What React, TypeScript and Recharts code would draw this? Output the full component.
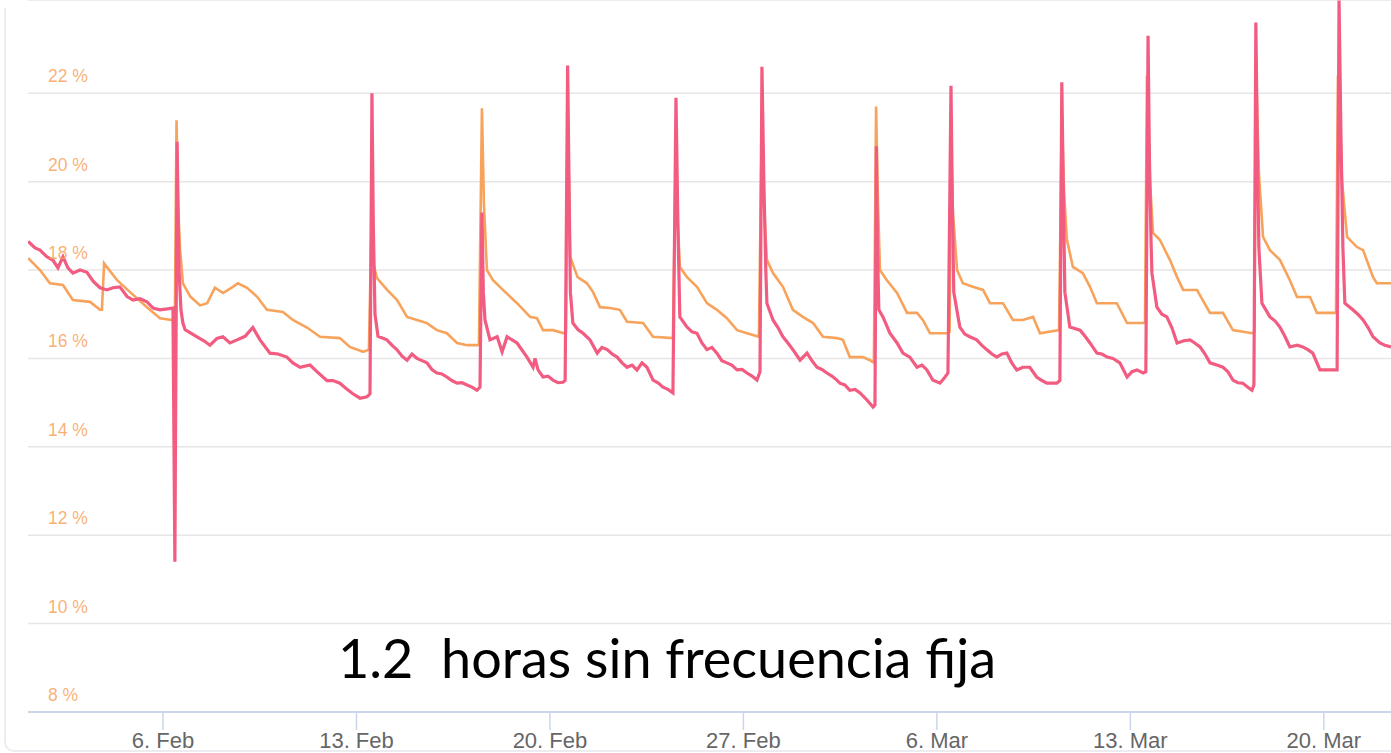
import { LineChart, Line, XAxis, YAxis, CartesianGrid } from 'recharts';

// day 0 = 1 Feb 00:00, values in %
const xTickDays = [5, 12, 19, 26, 33, 40, 47];
const xTickLabels = ['6. Feb', '13. Feb', '20. Feb', '27. Feb', '6. Mar', '13. Mar', '20. Mar'];
const yTicks = [8, 10, 12, 14, 16, 18, 20, 22];

const orangeSeries: [number, number][] = [
  [0.12, 18.27], [0.55, 18.0], [0.91, 17.7], [1.38, 17.66], [1.74, 17.32], [2.36, 17.28], [2.72, 17.1], [2.79, 17.1],
  [2.87, 18.15], [3.34, 17.77], [3.81, 17.5], [4.42, 17.16], [4.89, 16.91], [5.33, 16.87], [5.43, 17.0],
  [5.49, 21.39], [5.54, 19.5], [5.62, 18.45], [5.72, 17.7], [5.99, 17.4], [6.34, 17.2], [6.6, 17.25], [6.88, 17.6],
  [7.17, 17.48], [7.53, 17.62], [7.71, 17.7], [8.04, 17.6], [8.4, 17.4], [8.76, 17.1], [9.34, 17.05], [9.7, 16.87],
  [10.21, 16.7], [10.68, 16.49], [11.4, 16.46], [11.76, 16.26], [12.24, 16.15], [12.45, 16.2],
  [12.56, 19.5], [12.63, 18.1], [12.74, 17.82], [13.11, 17.55], [13.47, 17.32], [13.83, 16.94], [14.19, 16.87],
  [14.55, 16.8], [14.91, 16.64], [15.27, 16.57], [15.64, 16.35], [16.0, 16.3], [16.43, 16.3],
  [16.54, 21.66], [16.61, 19.5], [16.72, 18.0], [16.94, 17.77], [17.3, 17.55], [17.81, 17.25], [18.28, 16.94],
  [18.53, 16.91], [18.75, 16.64], [19.11, 16.64], [19.51, 16.57], [19.58, 16.6],
  [19.64, 21.85], [19.73, 18.3], [20.0, 17.84], [20.34, 17.7], [20.56, 17.5], [20.81, 17.16], [21.17, 17.14],
  [21.53, 17.1], [21.79, 16.83], [22.37, 16.8], [22.73, 16.49], [23.45, 16.46],
  [23.56, 21.0], [23.63, 19.0], [23.7, 18.07], [23.96, 17.84], [24.32, 17.62], [24.68, 17.25], [25.04, 17.1],
  [25.4, 16.91], [25.77, 16.64], [26.13, 16.57], [26.56, 16.49],
  [26.67, 21.5], [26.74, 19.5], [26.85, 18.23], [27.07, 17.93], [27.43, 17.62], [27.79, 17.1], [28.15, 16.94],
  [28.52, 16.8], [28.88, 16.49], [29.38, 16.46], [29.6, 16.42], [29.85, 16.03], [30.32, 16.03], [30.58, 15.96], [30.72, 15.9],
  [30.8, 21.7], [30.87, 19.5], [30.94, 18.0], [31.19, 17.77], [31.56, 17.48], [31.92, 17.03], [32.28, 17.03],
  [32.49, 16.87], [32.75, 16.57], [33.33, 16.57], [33.46, 16.6],
  [33.51, 21.0], [33.58, 19.3], [33.73, 18.0], [33.94, 17.7], [34.3, 17.62], [34.67, 17.55], [34.92, 17.25],
  [35.39, 17.25], [35.75, 16.87], [36.11, 16.87], [36.48, 16.94], [36.73, 16.57], [37.42, 16.64],
  [37.52, 21.5], [37.6, 19.8], [37.7, 18.7], [37.92, 18.07], [38.28, 17.93], [38.54, 17.62], [38.79, 17.25],
  [39.51, 17.25], [39.88, 16.8], [40.53, 16.8],
  [40.6, 22.4], [40.71, 20.0], [40.82, 18.84], [41.07, 18.68], [41.43, 18.23], [41.69, 17.84], [41.91, 17.55],
  [42.41, 17.55], [42.88, 17.03], [43.35, 17.03], [43.71, 16.64], [44.4, 16.57], [44.49, 16.6],
  [44.54, 22.8], [44.65, 20.2], [44.8, 18.75], [45.05, 18.45], [45.41, 18.23], [45.77, 17.77], [46.03, 17.39],
  [46.5, 17.39], [46.75, 17.03], [47.44, 17.03],
  [47.51, 22.4], [47.66, 20.0], [47.84, 18.75], [48.2, 18.52], [48.42, 18.45], [48.78, 17.84], [48.92, 17.7], [49.43, 17.7],
];

const pinkSeries: [number, number][] = [
  [0.12, 18.65], [0.37, 18.5], [0.55, 18.45], [0.8, 18.3], [1.02, 18.22], [1.2, 18.05], [1.38, 18.3], [1.56, 18.05],
  [1.74, 17.93], [2.0, 18.0], [2.25, 17.95], [2.47, 17.75], [2.72, 17.6], [2.97, 17.55], [3.19, 17.6], [3.44, 17.62],
  [3.7, 17.4], [3.92, 17.32], [4.17, 17.35], [4.42, 17.28], [4.64, 17.14], [4.89, 17.1], [5.15, 17.12], [5.36, 17.14],
  [5.43, 11.4], [5.51, 20.9], [5.58, 18.0], [5.65, 17.1], [5.72, 16.8], [5.8, 16.65], [6.23, 16.49], [6.48, 16.4],
  [6.7, 16.3], [6.95, 16.45], [7.17, 16.49], [7.42, 16.35], [7.68, 16.42], [7.97, 16.5], [8.25, 16.7], [8.51, 16.42],
  [8.87, 16.12], [9.16, 16.1], [9.48, 16.03], [9.7, 15.9], [9.96, 15.8], [10.32, 15.85], [10.57, 15.7], [10.93, 15.5],
  [11.15, 15.5], [11.4, 15.44], [11.66, 15.3], [11.87, 15.2], [12.13, 15.1], [12.38, 15.13], [12.49, 15.2],
  [12.56, 22.0], [12.61, 19.0], [12.67, 17.0], [12.78, 16.5], [13.1, 16.42], [13.28, 16.3], [13.46, 16.2], [13.65, 16.05],
  [13.83, 15.96], [14.01, 16.1], [14.19, 16.0], [14.37, 15.95], [14.55, 15.9], [14.73, 15.75], [14.91, 15.67],
  [15.09, 15.65], [15.27, 15.58], [15.45, 15.5], [15.64, 15.44], [15.82, 15.45], [16.0, 15.4], [16.18, 15.35],
  [16.36, 15.28], [16.47, 15.35],
  [16.54, 19.3], [16.59, 17.5], [16.65, 16.87], [16.83, 16.42], [17.09, 16.49], [17.27, 16.15], [17.45, 16.49],
  [17.81, 16.35], [18.17, 16.03], [18.39, 15.8], [18.46, 16.0], [18.57, 15.74], [18.75, 15.58], [18.93, 15.6],
  [19.11, 15.51], [19.29, 15.45], [19.47, 15.46], [19.55, 15.5],
  [19.64, 22.63], [19.69, 20.0], [19.74, 17.5], [19.83, 16.8], [20.02, 16.65], [20.2, 16.57], [20.45, 16.42],
  [20.71, 16.12], [20.88, 16.25], [21.07, 16.2], [21.25, 16.1], [21.43, 16.03], [21.61, 15.9], [21.79, 15.8],
  [21.97, 15.85], [22.15, 15.74], [22.33, 15.9], [22.51, 15.8], [22.73, 15.51], [22.91, 15.45], [23.09, 15.35],
  [23.27, 15.3], [23.45, 15.22],
  [23.56, 21.9], [23.63, 19.0], [23.7, 16.94], [23.96, 16.71], [24.14, 16.6], [24.32, 16.57], [24.5, 16.35],
  [24.68, 16.2], [24.86, 16.25], [25.04, 16.12], [25.22, 15.95], [25.4, 15.9], [25.58, 15.85], [25.77, 15.74],
  [25.95, 15.75], [26.13, 15.67], [26.31, 15.6], [26.49, 15.51], [26.6, 15.7],
  [26.67, 22.6], [26.74, 20.0], [26.81, 18.0], [26.85, 17.25], [27.07, 16.87], [27.25, 16.7], [27.43, 16.49],
  [27.61, 16.35], [27.79, 16.2], [28.05, 15.96], [28.3, 16.12], [28.48, 15.95], [28.66, 15.8], [28.84, 15.75],
  [29.02, 15.67], [29.2, 15.6], [29.38, 15.51], [29.49, 15.44], [29.67, 15.4], [29.85, 15.28], [30.04, 15.3],
  [30.22, 15.22], [30.47, 15.06], [30.69, 14.9], [30.76, 14.95],
  [30.81, 20.8], [30.85, 18.5], [30.9, 17.1], [31.05, 16.94], [31.3, 16.57], [31.56, 16.35], [31.77, 16.12],
  [32.02, 16.03], [32.28, 15.8], [32.46, 15.85], [32.64, 15.74], [32.85, 15.51], [33.11, 15.44], [33.26, 15.55], [33.4, 15.67],
  [33.51, 22.17], [33.56, 19.5], [33.61, 17.5], [33.83, 16.71], [34.01, 16.55], [34.19, 16.49], [34.44, 16.42],
  [34.62, 16.3], [34.8, 16.2], [34.99, 16.1], [35.17, 16.03], [35.35, 16.1], [35.53, 16.12], [35.71, 15.9],
  [35.89, 15.74], [36.11, 15.8], [36.36, 15.8], [36.61, 15.58], [36.8, 15.5], [36.98, 15.44], [37.34, 15.44], [37.45, 15.5],
  [37.52, 22.25], [37.58, 19.5], [37.63, 17.5], [37.81, 16.71], [38.18, 16.64], [38.36, 16.5], [38.54, 16.35],
  [38.79, 16.12], [38.97, 16.1], [39.16, 16.03], [39.37, 16.0], [39.62, 15.9], [39.88, 15.58], [40.06, 15.7],
  [40.24, 15.74], [40.46, 15.67], [40.56, 15.7],
  [40.64, 23.3], [40.69, 20.5], [40.75, 18.6], [40.78, 17.93], [40.96, 17.16], [41.14, 17.0], [41.32, 16.94],
  [41.5, 16.7], [41.69, 16.35], [41.94, 16.4], [42.16, 16.42], [42.33, 16.35], [42.52, 16.26], [42.7, 16.1],
  [42.88, 15.9], [43.13, 15.85], [43.35, 15.8], [43.53, 15.7], [43.71, 15.51], [43.89, 15.45], [44.07, 15.44],
  [44.25, 15.35], [44.4, 15.28], [44.47, 15.4],
  [44.54, 23.6], [44.6, 20.5], [44.65, 18.5], [44.76, 17.25], [45.05, 16.94], [45.23, 16.85], [45.41, 16.71],
  [45.59, 16.5], [45.77, 16.26], [46.03, 16.3], [46.24, 16.26], [46.42, 16.2], [46.6, 16.12], [46.86, 15.74],
  [47.33, 15.74], [47.48, 15.74],
  [47.55, 24.1], [47.62, 21.0], [47.69, 18.5], [47.76, 17.25], [48.05, 17.1], [48.23, 17.0], [48.42, 16.87],
  [48.6, 16.7], [48.78, 16.49], [49.03, 16.35], [49.21, 16.3], [49.43, 16.26],
];

const orangeData = orangeSeries.map(([d, v]) => ({ d, v }));
const pinkData = pinkSeries.map(([d, v]) => ({ d, v }));

const YTick = (props: any) => (
  <text x={48} y={props.y - 11} fill="#f7a35c" fillOpacity={0.85} fontSize={17.5} fontFamily="Liberation Sans, Arial, sans-serif">
    {props.payload.value} %
  </text>
);

export default function App() {
  return (
    <div style={{ position: 'absolute', left: 0, top: 0, width: 1391, height: 753, background: '#fff', overflow: 'hidden' }}>
      <div style={{ position: 'absolute', left: 4, top: 8, width: 1420, height: 742, borderLeft: '2px solid #ececf1', borderBottom: '2px solid #ececf1', borderBottomLeftRadius: 10 }} />
      <LineChart width={1391} height={753} margin={{ top: 0, right: 0, left: 0, bottom: 0 }}>
        <CartesianGrid vertical={false} stroke="#e6e6e6" strokeWidth={1.5} />
        <XAxis
          type="number"
          dataKey="d"
          domain={[0.116, 49.43]}
          allowDataOverflow
          ticks={xTickDays}
          tickFormatter={(v: number) => xTickLabels[xTickDays.indexOf(v)]}
          stroke="#ccd6eb"
          axisLine={{ stroke: '#ccd6eb', strokeWidth: 2 }}
          tickLine={{ stroke: '#ccd6eb', strokeWidth: 1.5 }}
          tickSize={18}
          tick={{ fill: '#666666', fontSize: 22, fontFamily: 'Liberation Sans, Arial, sans-serif' }}
          height={41}
        />
        <YAxis
          type="number"
          domain={[8, 24.11]}
          allowDataOverflow
          ticks={yTicks}
          width={28}
          axisLine={false}
          tickLine={false}
          tick={YTick}
        />
        <Line data={orangeData} dataKey="v" type="linear" stroke="#f7a35c" strokeWidth={2.6} dot={false} isAnimationActive={false} />
        <Line data={pinkData} dataKey="v" type="linear" stroke="#f15c80" strokeWidth={3.2} dot={false} isAnimationActive={false} />
      </LineChart>
      <svg width={1391} height={753} style={{ position: 'absolute', left: 0, top: 0, pointerEvents: 'none' }}>
        <text x={338} y={678} fontSize={54} fontFamily="Lato, sans-serif" fill="#000" style={{ whiteSpace: 'pre' }}>
          1.2  horas sin frecuencia fija
        </text>
      </svg>
    </div>
  );
}
